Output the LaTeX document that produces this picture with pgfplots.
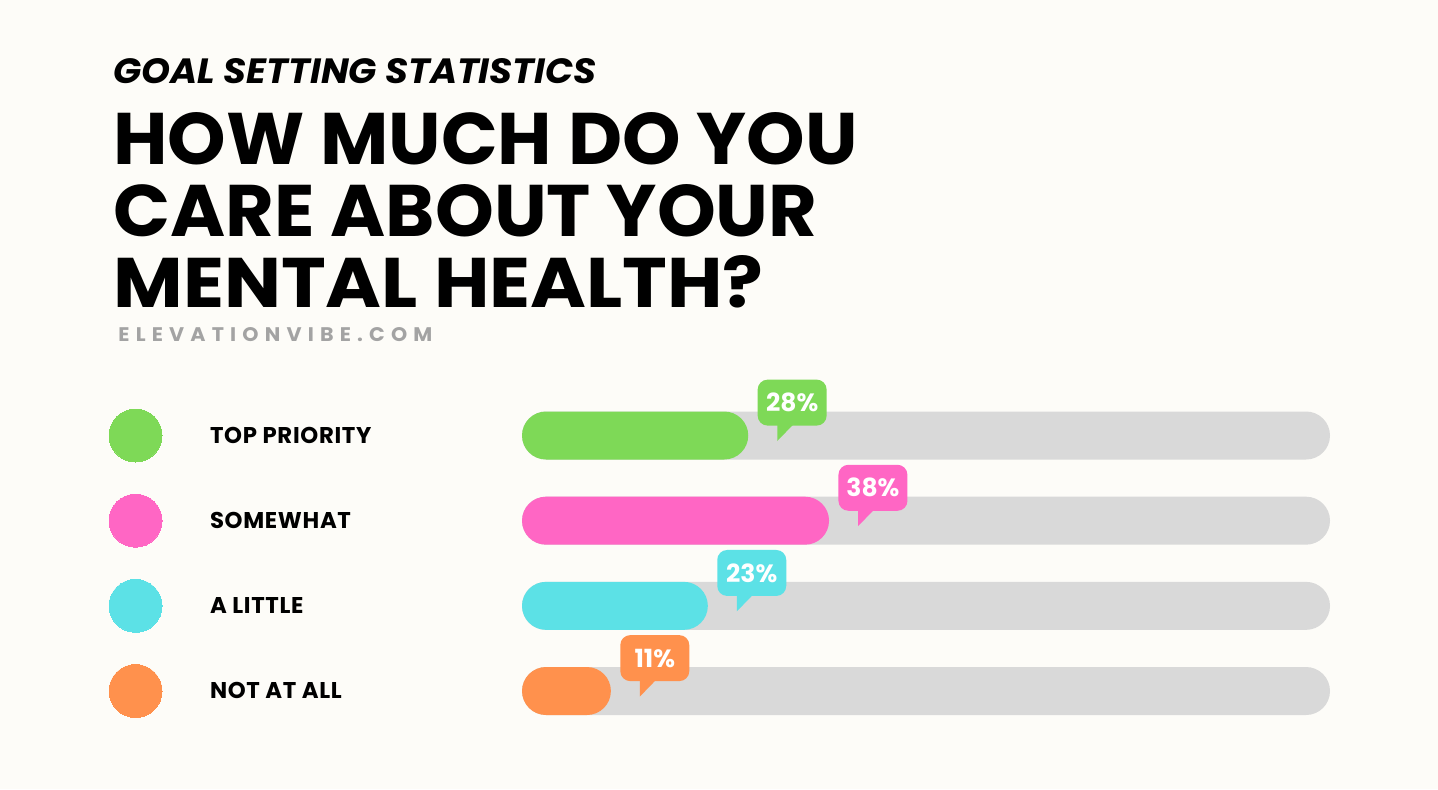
\documentclass[border=0pt]{standalone}
\usepackage{pgfplots}
\pgfplotsset{compat=1.18}
\usepackage{fontspec}
\setmainfont{Poppins}
\newfontfamily\spacedfont{Poppins}[LetterSpace=30]
\newfontfamily\labelfont{Poppins}[LetterSpace=3]
\definecolor{bg}{HTML}{FDFCF8}
\definecolor{cgreen}{HTML}{7ED957}
\definecolor{cpink}{HTML}{FF66C4}
\definecolor{ccyan}{HTML}{5CE1E6}
\definecolor{corange}{HTML}{FF914D}
\definecolor{ctrack}{HTML}{D9D9D9}
\definecolor{cweb}{HTML}{A3A3A3}

\pgfdeclareplotmark{tail}{%
  \pgfpathmoveto{\pgfpoint{14.5pt}{5.5pt}}%
  \pgfpathlineto{\pgfpoint{14.5pt}{-2.75pt}}%
  \pgfpathlineto{\pgfpoint{22.5pt}{5.5pt}}%
  \pgfpathclose
  \pgfusepathqfill}

\pgfplotsset{
  bubble/.style={nodes near coords={\pgfmathprintnumber{\pgfplotspointmeta}\%}, point meta=x,
     /pgf/number format/assume math mode=true,
     every node near coord/.append style={anchor=south west, xshift=4.5pt, yshift=4.75pt,
       fill=#1, text=white, font=\bfseries\fontsize{12.5}{12.5}\selectfont,
       rounded corners=5pt, minimum width=34.5pt, minimum height=23pt, inner sep=0pt}},
  bar/.style={xbar, bar shift=0pt, bar width=24pt, fill=#1, draw=none, rounded corners=12pt},
  dot/.style={only marks, color=#1, mark=*, mark size=13.25pt, mark options={fill=#1, draw=#1, line width=0pt},
     point meta=explicit symbolic, nodes near coords={\pgfplotspointmeta},
     every node near coord/.append style={anchor=base west, xshift=37.25pt, yshift=-3.75pt,
       inner sep=0pt, text=black, font=\labelfont\bfseries\fontsize{11.4}{11.4}\selectfont}},
  tailp/.style={only marks, mark=tail, mark options={fill=#1, draw=none}},
}

\begin{document}
\begin{tikzpicture}
\fill[bg] (0,0) rectangle (719pt,-394.5pt);

\node[anchor=north west, inner sep=0pt] at (56.5pt,-29pt)
  {\resizebox{241.5pt}{12.5pt}{\bfseries\itshape GOAL SETTING STATISTICS}};
\node[anchor=north west, inner sep=0pt] at (56.5pt,-56pt)
  {\resizebox{372pt}{26pt}{\bfseries HOW MUCH DO YOU}};
\node[anchor=north west, inner sep=0pt] at (56.5pt,-92pt)
  {\resizebox{352pt}{26pt}{\bfseries CARE ABOUT YOUR}};
\node[anchor=north west, inner sep=0pt] at (56.5pt,-127.5pt)
  {\resizebox{325pt}{26pt}{\bfseries MENTAL HEALTH?}};
\node[anchor=north west, inner sep=0pt, text=cweb] at (59pt,-163.5pt)
  {\resizebox{157pt}{7pt}{\spacedfont\bfseries ELEVATIONVIBE.COM}};

\begin{axis}[
  at={(261pt,-217.75pt)}, anchor=north west,
  scale only axis, width=404pt, height=127.75pt,
  xmin=0, xmax=100, ymin=0, ymax=3, y dir=reverse,
  hide axis, clip=false,
]
\addplot[bar=ctrack] coordinates {(100,0) (100,1) (100,2) (100,3)};
\addplot[bar=cgreen, bubble=cgreen] coordinates {(28,0)};
\addplot[bar=cpink, bubble=cpink] coordinates {(38,1)};
\addplot[bar=ccyan, bubble=ccyan] coordinates {(23,2)};
\addplot[bar=corange, bubble=corange] coordinates {(11,3)};
\addplot[tailp=cgreen] coordinates {(28,0)};
\addplot[tailp=cpink] coordinates {(38,1)};
\addplot[tailp=ccyan] coordinates {(23,2)};
\addplot[tailp=corange] coordinates {(11,3)};
\addplot[dot=cgreen] coordinates {(-47.83,0) [TOP PRIORITY]};
\addplot[dot=cpink] coordinates {(-47.83,1) [SOMEWHAT]};
\addplot[dot=ccyan] coordinates {(-47.83,2) [A LITTLE]};
\addplot[dot=corange] coordinates {(-47.83,3) [NOT AT ALL]};
\end{axis}

\pgfresetboundingbox
\useasboundingbox (0,0) rectangle (719pt,-394.5pt);
\end{tikzpicture}
\end{document}
